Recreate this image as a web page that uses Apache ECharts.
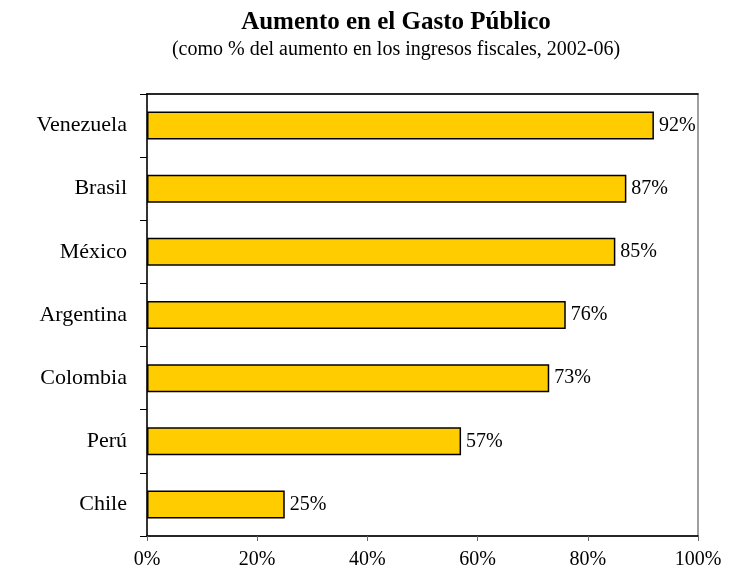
<!DOCTYPE html>
<html>
<head>
<meta charset="utf-8">
<script src="https://cdn.jsdelivr.net/npm/echarts@6/dist/echarts.min.js"></script>
<style>
  html, body { margin: 0; padding: 0; background: #fff; }
  #chart { width: 730px; height: 577px; }
</style>
</head>
<body>
<div id="chart"></div>
<script>
const countries = ['Venezuela', 'Brasil', 'México', 'Argentina', 'Colombia', 'Perú', 'Chile'];
const values = [92, 87, 85, 76, 73, 57, 25];
const xTicks = [0, 20, 40, 60, 80, 100];

const font = '"Liberation Serif", "Times New Roman", serif';

const chart = echarts.init(document.getElementById('chart'));

const option = {
  backgroundColor: '#fff',
  title: {
    text: 'Aumento en el Gasto Público',
    subtext: '(como % del aumento en los ingresos fiscales, 2002-06)',
    left: 391,
    textAlign: 'center',
    top: 5,
    itemGap: 5,
    textStyle: { fontFamily: font, fontSize: 25, fontWeight: 'bold', color: '#000' },
    subtextStyle: { fontFamily: font, fontSize: 20, color: '#000' }
  },
  grid: {
    left: 147,
    right: 32,
    top: 94,
    bottom: 41,
    show: true,
    borderColor: '#808080',
    borderWidth: 1.5
  },
  xAxis: [
    {
      type: 'value',
      min: xTicks[0],
      max: xTicks[xTicks.length - 1],
      interval: 20,
      splitLine: { show: false },
      axisLine: { show: true, lineStyle: { color: '#000', width: 1.5 } },
      axisTick: { show: true, length: 5, lineStyle: { color: '#666' } },
      axisLabel: { fontFamily: font, fontSize: 20, color: '#000', margin: 14, formatter: '{value}%' }
    },
    {
      type: 'value',
      position: 'top',
      min: 0,
      max: 100,
      axisLine: { show: true, lineStyle: { color: '#000', width: 1.5 } },
      axisTick: { show: false },
      axisLabel: { show: false },
      splitLine: { show: false }
    }
  ],
  yAxis: {
    type: 'category',
    inverse: true,
    data: countries,
    axisLine: { lineStyle: { color: '#333', width: 2 } },
    axisTick: { show: true, length: 7, lineStyle: { color: '#000' } },
    axisLabel: { fontFamily: font, fontSize: 22, color: '#000', margin: 20 }
  },
  series: [
    {
      type: 'bar',
      data: values,
      barWidth: 28,
      itemStyle: { color: '#FFCC00', borderColor: '#000', borderWidth: 1.5 },
      label: {
        show: true,
        position: 'right',
        distance: 5,
        formatter: '{c}%',
        fontFamily: font,
        fontSize: 20,
        color: '#000'
      },
      silent: true
    }
  ],
  animation: false
};

chart.setOption(option);
</script>
</body>
</html>
